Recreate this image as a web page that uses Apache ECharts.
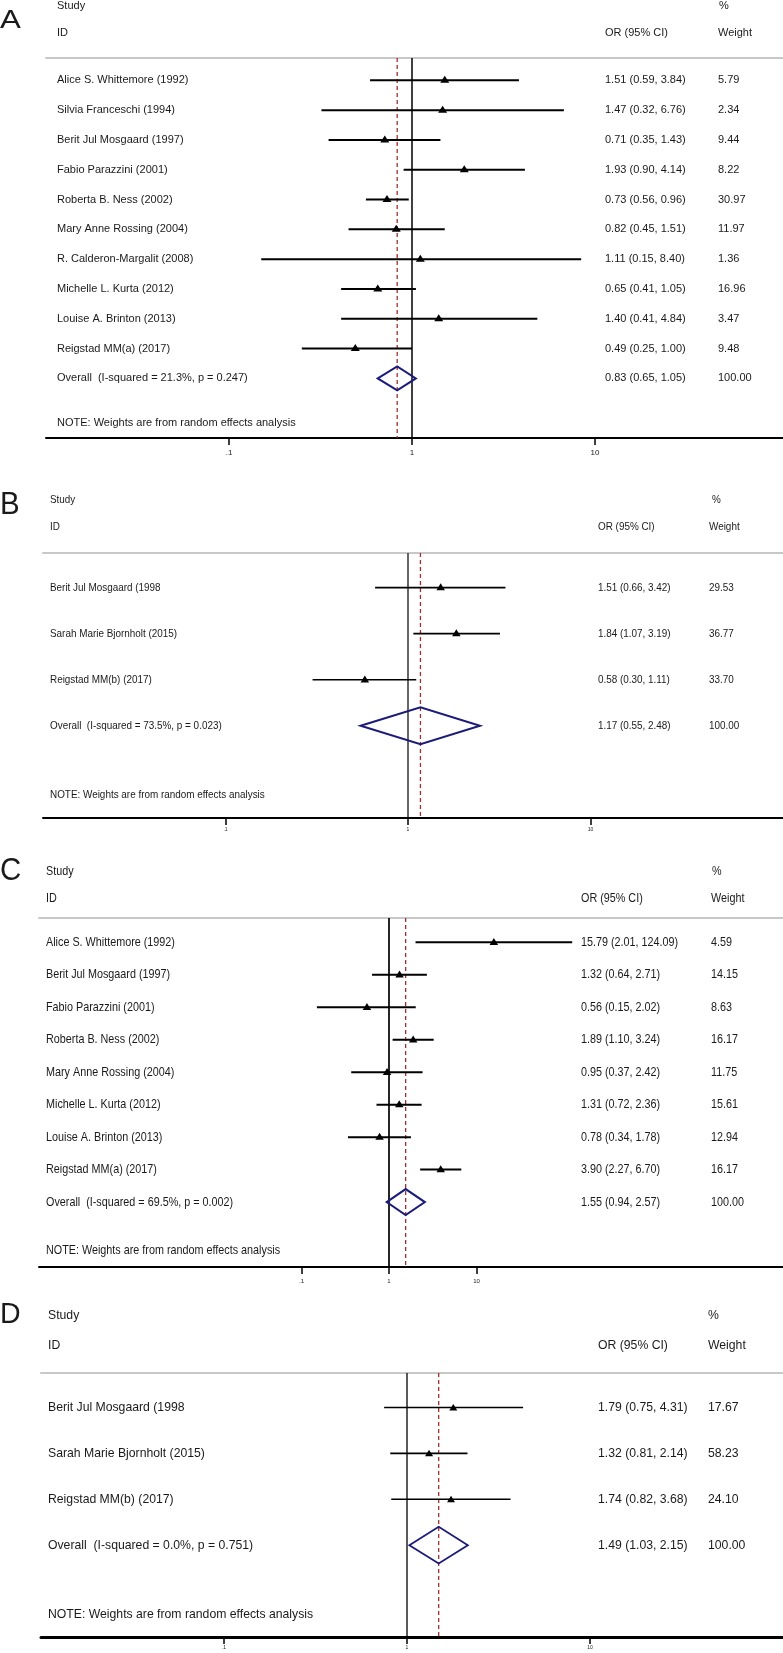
<!DOCTYPE html>
<html><head><meta charset="utf-8">
<script src="https://cdn.jsdelivr.net/npm/echarts@6/dist/echarts.min.js"></script>
<style>html,body{margin:0;padding:0;background:#fff}#c{width:783px;height:1653px}</style>
</head><body><div id="c"></div>
<script>
// ---------------- DATA ----------------
const namesA = ["Alice S. Whittemore (1992)","Silvia Franceschi (1994)","Berit Jul Mosgaard (1997)","Fabio Parazzini (2001)","Roberta B. Ness (2002)","Mary Anne Rossing (2004)","R. Calderon-Margalit (2008)","Michelle L. Kurta (2012)","Louise A. Brinton (2013)","Reigstad MM(a) (2017)"];
const orA = [1.51,1.47,0.71,1.93,0.73,0.82,1.11,0.65,1.40,0.49];
const loA = [0.59,0.32,0.35,0.90,0.56,0.45,0.15,0.41,0.41,0.25];
const hiA = [3.84,6.76,1.43,4.14,0.96,1.51,8.40,1.05,4.84,1.00];
const wA  = [5.79,2.34,9.44,8.22,30.97,11.97,1.36,16.96,3.47,9.48];

const namesB = ["Berit Jul Mosgaard (1998","Sarah Marie Bjornholt (2015)","Reigstad MM(b) (2017)"];
const orB = [1.51,1.84,0.58];
const loB = [0.66,1.07,0.30];
const hiB = [3.42,3.19,1.11];
const wB  = [29.53,36.77,33.70];

const namesC = ["Alice S. Whittemore (1992)","Berit Jul Mosgaard (1997)","Fabio Parazzini (2001)","Roberta B. Ness (2002)","Mary Anne Rossing (2004)","Michelle L. Kurta (2012)","Louise A. Brinton (2013)","Reigstad MM(a) (2017)"];
const orC = [15.79,1.32,0.56,1.89,0.95,1.31,0.78,3.90];
const loC = [2.01,0.64,0.15,1.10,0.37,0.72,0.34,2.27];
const hiC = [124.09,2.71,2.02,3.24,2.42,2.36,1.78,6.70];
const wC  = [4.59,14.15,8.63,16.17,11.75,15.61,12.94,16.17];

const namesD = ["Berit Jul Mosgaard (1998","Sarah Marie Bjornholt (2015)","Reigstad MM(b) (2017)"];
const orD = [1.79,1.32,1.74];
const loD = [0.75,0.81,0.82];
const hiD = [4.31,2.14,3.68];
const wD  = [17.67,58.23,24.10];

const panelLetters = ["A","B","C","D"];
const pooledOR = [0.83,1.17,1.55,1.49];
const pooledLo = [0.65,0.55,0.94,1.03];
const pooledHi = [1.05,2.48,2.57,2.15];
const pooledWeight = [100.00,100.00,100.00,100.00];
const iSquared = [21.3,73.5,69.5,0.0];
const pValue = [0.247,0.023,0.002,0.751];

const tickValues = [0.1,1,10];
const tickLabels = [".1","1","10"];
const headerStudy = "Study", headerID = "ID", headerOR = "OR (95% CI)", headerPct = "%", headerWeight = "Weight";
const noteText = "NOTE: Weights are from random effects analysis";

// ---------------- LAYOUT ----------------
const W = 783;
const layout = [
  {top:58, bottom:438, left:46, min:0.01, decade:183, nameX:57, orX:605, wX:718, pctX:719, studyY:6, idY:33, fs:11, sx:1.0, letterY:21, letterFs:25, letterSx:1.25, tickFs:8, tickMargin:11, axisW:2, ciW:2, refW:1.5, tri:[9,4.5,2.5], diaW:2},
  {top:553, bottom:818, left:43, min:0.01, decade:182.5, nameX:50, orX:598, wX:709, pctX:712, studyY:500, idY:527, fs:11, sx:0.9, letterY:505, letterFs:31, letterSx:0.95, tickFs:5, tickMargin:9, axisW:2, ciW:1.7, refW:1.2, tri:[8.5,4.3,2.7], diaW:2},
  {top:918, bottom:1267, left:39, min:0.0001, decade:87.5, nameX:46, orX:581, wX:711, pctX:712, studyY:871, idY:898, fs:13, sx:0.83, letterY:871, letterFs:31, letterSx:0.95, tickFs:6, tickMargin:11, axisW:2, ciW:2, refW:1.7, tri:[8.5,4.3,2.7], diaW:2},
  {top:1373, bottom:1637, left:41, min:0.01, decade:183, nameX:48, orX:598, wX:708, pctX:708, studyY:1315, idY:1345, fs:13, sx:0.94, letterY:1315, letterFs:30, letterSx:0.95, tickFs:5, tickMargin:8, axisW:3, ciW:1.6, refW:1.3, tri:[8,3.5,3], diaW:1.8}
];
const FONT = '"Liberation Sans", Arial, sans-serif';
const TXT = '#1a1a1a';

const panels = [
  {names:namesA, or:orA, lo:loA, hi:hiA, w:wA},
  {names:namesB, or:orB, lo:loB, hi:hiB, w:wB},
  {names:namesC, or:orC, lo:loC, hi:hiC, w:wC},
  {names:namesD, or:orD, lo:loD, hi:hiD, w:wD}
];

function labelFor(v){
  const k = tickValues.findIndex(t => Math.abs(Math.log10(t) - Math.log10(v)) < 1e-6);
  return k >= 0 ? tickLabels[k] : '';
}
function ciText(o,l,h){ return o.toFixed(2) + ' (' + l.toFixed(2) + ', ' + h.toFixed(2) + ')'; }

const grids = [], xAxes = [], yAxes = [], series = [], graphics = [];

panels.forEach((p, k) => {
  const L = layout[k];
  const n = p.names.length;
  const width = W - L.left;
  const font = L.fs + 'px ' + FONT;
  const txt = (x, y, s) => ({type:'text', x:x, y:y, scaleX:L.sx,
    style:{text:s, font:font, fill:TXT, align:'left', verticalAlign:'middle', textAlign:'left', textVerticalAlign:'middle'}});

  grids.push({left:L.left, top:L.top, width:width, height:L.bottom - L.top, containLabel:false, outerBoundsMode:'none'});
  const max = L.min * Math.pow(10, width / L.decade);
  xAxes.push({type:'log', logBase:10, gridIndex:k, min:L.min, max:max, position:'bottom',
    axisLine:{show:true, onZero:false, lineStyle:{color:'#000', width:L.axisW}},
    axisTick:{show:true, customValues:tickValues, length:7, inside:false, lineStyle:{color:'#000', width:1.5}},
    axisLabel:{show:true, customValues:tickValues, margin:L.tickMargin, fontSize:L.tickFs, color:'#222', fontFamily:FONT, formatter:labelFor},
    splitLine:{show:false}, minorTick:{show:false}, minorSplitLine:{show:false}});
  xAxes.push({type:'value', gridIndex:k, position:'top', min:0, max:1,
    axisLine:{show:true, onZero:false, lineStyle:{color:'#c8c8c8', width:2}},
    axisTick:{show:false}, axisLabel:{show:false}, splitLine:{show:false}});
  yAxes.push({type:'value', gridIndex:k, inverse:true, min:-0.75, max:n + 2, show:false, splitLine:{show:false}});

  // study rows
  series.push({type:'custom', xAxisIndex:2*k, yAxisIndex:k, clip:false, silent:true, z:3, animation:false,
    data:p.or.map((v,i) => [v, p.lo[i], p.hi[i], i]),
    encode:{x:[0,1,2], y:3},
    renderItem:(params, api) => {
      const i = api.value(3);
      const c = api.coord([api.value(0), i]);
      const a = api.coord([api.value(1), i]);
      const b = api.coord([api.value(2), i]);
      const y = c[1];
      const tw = L.tri[0], up = L.tri[1], dn = L.tri[2];
      return {type:'group', children:[
        {type:'line', shape:{x1:a[0], y1:y, x2:b[0], y2:y}, style:{stroke:'#000', lineWidth:L.ciW}},
        {type:'polygon', shape:{points:[[c[0]-tw/2, y+dn],[c[0]+tw/2, y+dn],[c[0], y-up]]}, style:{fill:'#000'}},
        txt(L.nameX, y, p.names[i]),
        txt(L.orX, y, ciText(p.or[i], p.lo[i], p.hi[i])),
        txt(L.wX, y, p.w[i].toFixed(2))
      ]};
    }});

  // overall row, reference lines, note
  series.push({type:'custom', xAxisIndex:2*k, yAxisIndex:k, clip:false, silent:true, z:2, animation:false,
    data:[[pooledOR[k], pooledLo[k], pooledHi[k], n]],
    encode:{x:[0,1,2], y:3},
    renderItem:(params, api) => {
      const r = api.value(3);
      const c = api.coord([api.value(0), r]);
      const a = api.coord([api.value(1), r]);
      const b = api.coord([api.value(2), r]);
      const h = api.coord([api.value(0), r + 0.4])[1] - c[1];
      const one = api.coord([1, r])[0];
      const cs = params.coordSys;
      const noteY = api.coord([1, r + 1.5])[1];
      return {type:'group', children:[
        {type:'line', shape:{x1:one, y1:cs.y, x2:one, y2:cs.y + cs.height}, style:{stroke:'#000', lineWidth:L.refW}},
        {type:'line', shape:{x1:c[0], y1:cs.y, x2:c[0], y2:cs.y + cs.height}, style:{stroke:'#a0302f', lineWidth:1.3, lineDash:[4,3]}},
        {type:'polygon', shape:{points:[[a[0], c[1]],[c[0], c[1]-h],[b[0], c[1]],[c[0], c[1]+h]]}, style:{fill:'none', stroke:'#1b1b7a', lineWidth:L.diaW}},
        txt(L.nameX, c[1], 'Overall  (I-squared = ' + iSquared[k].toFixed(1) + '%, p = ' + pValue[k].toFixed(3) + ')'),
        txt(L.orX, c[1], ciText(pooledOR[k], pooledLo[k], pooledHi[k])),
        txt(L.wX, c[1], pooledWeight[k].toFixed(2)),
        txt(L.nameX, noteY, noteText)
      ]};
    }});

  // headers
  const gtxt = (x, y, s, sx, f) => ({type:'text', x:x, y:y, scaleX:sx, silent:true,
    style:{text:s, font:f, fill:TXT, align:'left', verticalAlign:'middle', textAlign:'left', textVerticalAlign:'middle'}});
  graphics.push(gtxt(0, L.letterY, panelLetters[k], L.letterSx, L.letterFs + 'px ' + FONT));
  graphics.push(gtxt(L.nameX, L.studyY, headerStudy, L.sx, font));
  graphics.push(gtxt(L.nameX, L.idY, headerID, L.sx, font));
  graphics.push(gtxt(L.orX, L.idY, headerOR, L.sx, font));
  graphics.push(gtxt(L.pctX, L.studyY, headerPct, L.sx, font));
  graphics.push(gtxt(L.wX, L.idY, headerWeight, L.sx, font));
});

const chart = echarts.init(document.getElementById('c'), null, {renderer:'canvas'});
chart.setOption({
  animation:false,
  backgroundColor:'#fff',
  grid:grids, xAxis:xAxes, yAxis:yAxes, series:series,
  graphic:{elements:graphics}
});
</script></body></html>
